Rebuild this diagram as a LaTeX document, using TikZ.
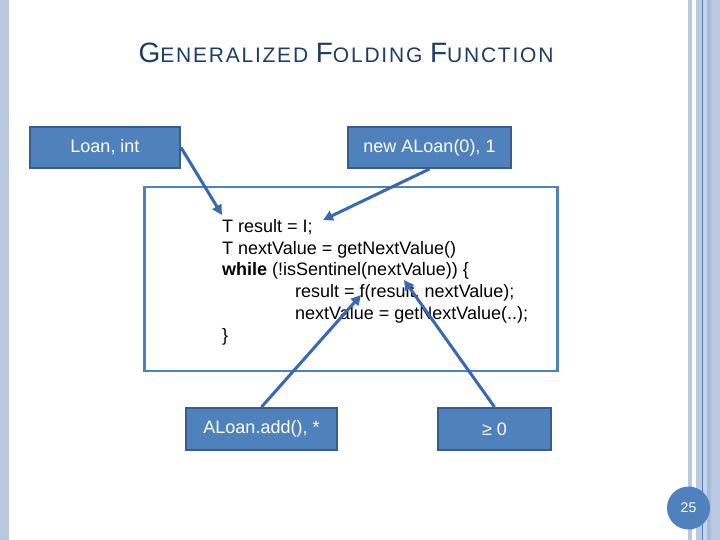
\documentclass[tikz,border=0pt]{standalone}
\usepackage{fontspec}
\setmainfont{Liberation Sans}
\newfontfamily\titlefont[LetterSpace=8.5]{Liberation Sans}
\usetikzlibrary{arrows.meta}
\definecolor{accent}{HTML}{4F81BD}
\definecolor{boxline}{HTML}{385D8A}
\definecolor{arrowc}{RGB}{56,104,176}
\definecolor{stripe}{HTML}{B9C7E0}
\definecolor{stripeb}{HTML}{BCC9E2}
\definecolor{stripec}{HTML}{A9BAD8}
\definecolor{stripel}{HTML}{C8D4EA}
\definecolor{titlec}{HTML}{1F3D62}
\tikzset{
  bluebox/.style={draw=boxline, line width=2pt, fill=accent, text=white,
    font=\fontsize{18}{21.6}\selectfont, inner sep=0pt},
  codeline/.style={anchor=base west, inner sep=0pt, text=black,
    font=\fontsize{18}{21.6}\selectfont},
  conn/.style={draw=arrowc, line width=3pt, -{Triangle[length=10pt,width=10pt]}},
}
\begin{document}
\begin{tikzpicture}[x=1pt,y=-1pt]
\useasboundingbox (0,0) rectangle (720,540);
\fill[white] (0,0) rectangle (720,540);
% side decorations
\fill[stripe] (0,0) rectangle (9,540);
\fill[stripe] (688,0) rectangle (692,540);
\fill[stripeb] (696,0) rectangle (720,540);
\fill[stripel] (703.3,0) rectangle (707,540);
\fill[stripec] (707,0) rectangle (710.5,540);
\fill[accent] (702,0) rectangle (703.3,540);
% title
\node[anchor=base, inner sep=0pt, text=titlec] (title) at (346,63)
  {\titlefont{\fontsize{28}{28}\selectfont G}{\fontsize{21}{21}\selectfont ENERALIZED }{\fontsize{28}{28}\selectfont F}{\fontsize{21}{21}\selectfont OLDING }{\fontsize{28}{28}\selectfont F}{\fontsize{21}{21}\selectfont UNCTION}};
% frame
\node[draw=accent, line width=2.7pt, minimum width=413pt, minimum height=184pt, inner sep=0pt] (frame) at (351,279) {};
% boxes
\node[bluebox, minimum width=150pt, minimum height=41pt] (loan) at (105,147.5) {Loan, int};
\node[bluebox, minimum width=163pt, minimum height=41pt] (newa) at (429.5,147.5) {new ALoan(0), 1};
\node[bluebox, minimum width=151pt, minimum height=42pt] (aadd) at (261.5,429) {ALoan.add(), *};
\node[bluebox, minimum width=113pt, minimum height=42pt] (geq) at (494.5,429) {≥ 0};
% code
\node[codeline] (c1) at (222,232.5) {T result = I;};
\node[codeline] (c2) at (222,254.2) {T nextValue = getNextValue()};
\node[codeline] (c3) at (222,275.9) {\textbf{while} (!isSentinel(nextValue)) \{};
\node[codeline] (c4) at (295,297.6) {result = f(result, nextValue);};
\node[codeline] (c5) at (295,319.3) {nextValue = getNextValue(..);};
\node[codeline] (c6) at (222,341) {\}};
% arrow targets
\coordinate (t1) at (222,215);
\coordinate (t2) at (323,220);
\coordinate (t3) at (361,295);
\coordinate (t4) at (404,280);
\draw[conn] (loan.east) -- (t1);
\draw[conn] (newa.south) -- (t2);
\draw[conn] (aadd.north) -- (t3);
\draw[conn] (geq.north) -- (t4);
% page number
\node[circle, fill=accent, minimum size=43pt, inner sep=0pt, text=white,
  font=\fontsize{14}{14}\selectfont] (page) at (688.5,508) {25};
\end{tikzpicture}
\end{document}
